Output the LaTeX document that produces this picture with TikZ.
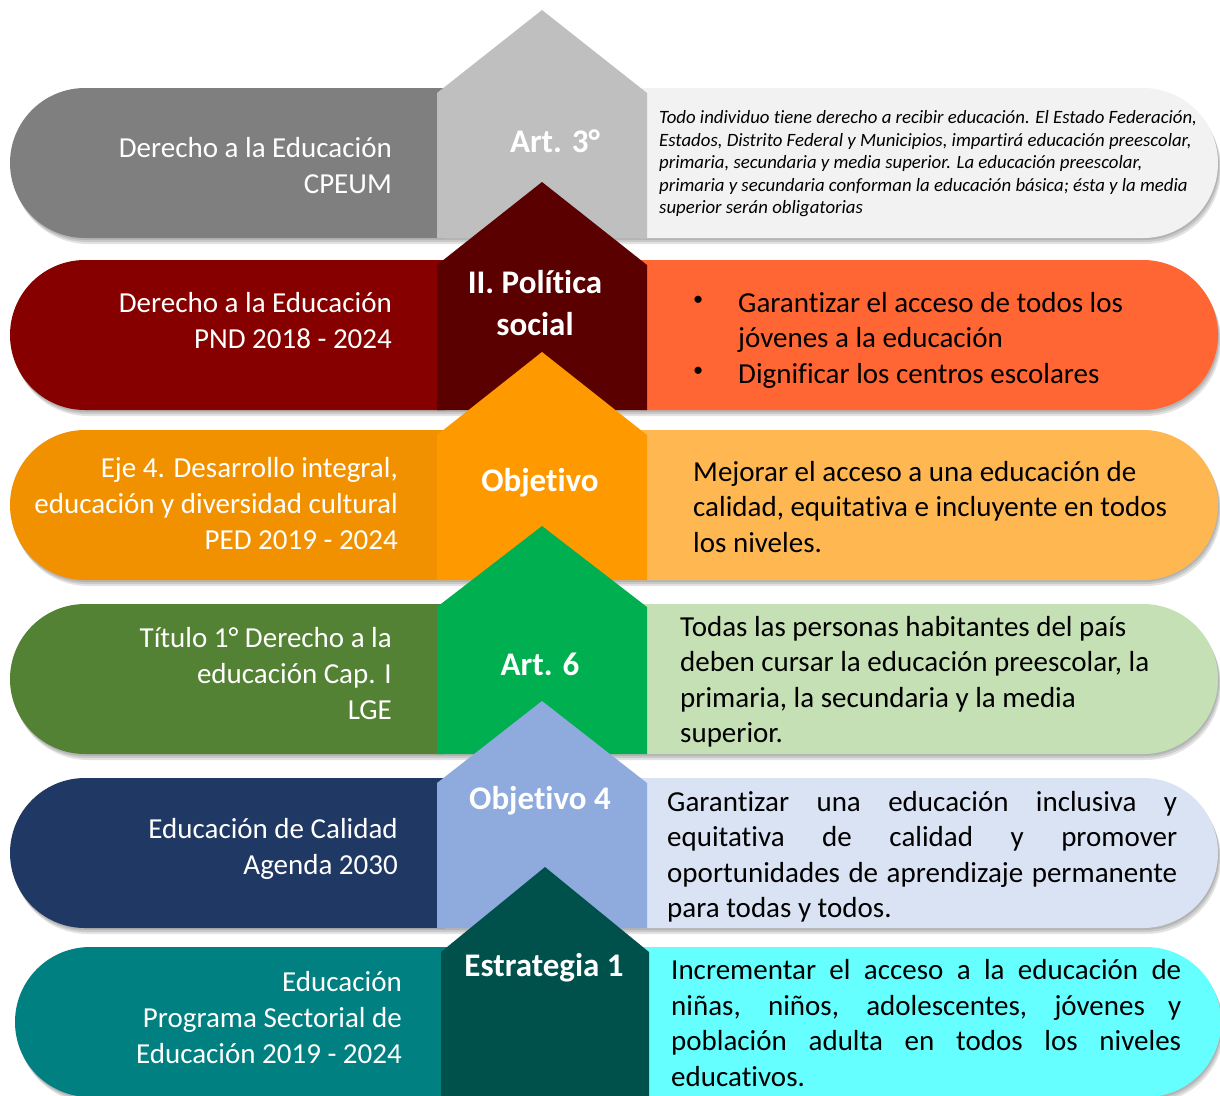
\documentclass[tikz,border=0pt]{standalone}
\usepackage{fontspec}
\setmainfont{Carlito}[Ligatures=NoCommon]
\usetikzlibrary{shapes.misc}
\definecolor{c1l}{HTML}{7F7F7F}\definecolor{c1m}{HTML}{BFBFBF}\definecolor{c1r}{HTML}{F2F2F2}
\definecolor{c2l}{HTML}{860000}\definecolor{c2m}{HTML}{5A0000}\definecolor{c2r}{HTML}{FF6633}
\definecolor{c3l}{HTML}{F29100}\definecolor{c3m}{HTML}{FF9900}\definecolor{c3r}{HTML}{FFB751}
\definecolor{c4l}{HTML}{548235}\definecolor{c4m}{HTML}{00B050}\definecolor{c4r}{HTML}{C5E0B4}
\definecolor{c5l}{HTML}{203864}\definecolor{c5m}{HTML}{8FAADC}\definecolor{c5r}{HTML}{DAE3F3}
\definecolor{c6l}{HTML}{008080}\definecolor{c6m}{HTML}{00504C}\definecolor{c6r}{HTML}{66FFFF}
\newcommand{\mybul}{\makebox[45pt][l]{\raisebox{0.5ex}{\scalebox{0.7}{\textbullet}}}}
\begin{document}
\begin{tikzpicture}[x=1pt,y=-1pt,
  lpill/.style={rounded rectangle, rounded rectangle right arc=none, minimum height=150pt, inner sep=0pt, draw=none},
  rpill/.style={rounded rectangle, rounded rectangle left arc=none, minimum height=150pt, inner sep=0pt, draw=none},
  shad/.style={rounded rectangle, minimum height=150pt, inner sep=0pt, draw=none, fill=black, fill opacity=0.11},
  ltext/.style={text=white, align=right, anchor=east, inner sep=0pt, font=\fontsize{29}{36}\selectfont},
  mtext/.style={text=white, align=center, inner sep=0pt, font=\bfseries\fontsize{33}{42}\selectfont},
  rtext/.style={text=black, align=left, anchor=west, inner sep=0pt, font=\fontsize{29}{35.5}\selectfont},
  itext/.style={text=black, align=left, anchor=west, inner sep=0pt, font=\itshape\fontsize{18.8}{22.5}\selectfont},
]
\useasboundingbox (0,0) rectangle (1220,1095);
% ---------- Row 1
\foreach \k in {1,2,3} \node[shad, minimum width=1208pt] (s1\k) at (614+\k,163+2*\k) {};
\node[lpill, fill=c1l, minimum width=435pt] (p1l) at (227.5,163) {};
\node[rpill, fill=c1r, minimum width=578pt] (p1r) at (929,163) {};
\fill[c1m] (437,238) -- (437,93) -- (542,10) -- (647,93) -- (647,238) -- cycle;
% ---------- Row 2
\foreach \k in {1,2,3} \node[shad, minimum width=1208pt] (s2\k) at (614+\k,335+2*\k) {};
\node[lpill, fill=c2l, minimum width=435pt] (p2l) at (227.5,335) {};
\node[rpill, fill=c2r, minimum width=578pt] (p2r) at (929,335) {};
\fill[c2m] (437,410) -- (437,265) -- (542,182) -- (647,265) -- (647,410) -- cycle;
% ---------- Row 3
\foreach \k in {1,2,3} \node[shad, minimum width=1208pt] (s3\k) at (614+\k,505+2*\k) {};
\node[lpill, fill=c3l, minimum width=435pt] (p3l) at (227.5,505) {};
\node[rpill, fill=c3r, minimum width=578pt] (p3r) at (929,505) {};
\fill[c3m] (437,580) -- (437,435) -- (542,352) -- (647,435) -- (647,580) -- cycle;
% ---------- Row 4
\foreach \k in {1,2,3} \node[shad, minimum width=1208pt] (s4\k) at (614+\k,679+2*\k) {};
\node[lpill, fill=c4l, minimum width=435pt] (p4l) at (227.5,679) {};
\node[rpill, fill=c4r, minimum width=578pt] (p4r) at (929,679) {};
\fill[c4m] (437,754) -- (437,607) -- (542,526) -- (647,607) -- (647,754) -- cycle;
% ---------- Row 5
\foreach \k in {1,2,3} \node[shad, minimum width=1208pt] (s5\k) at (614+\k,853+2*\k) {};
\node[lpill, fill=c5l, minimum width=435pt] (p5l) at (227.5,853) {};
\node[rpill, fill=c5r, minimum width=578pt] (p5r) at (929,853) {};
\fill[c5m] (437,928) -- (437,783) -- (542,701) -- (647,783) -- (647,928) -- cycle;
% ---------- Row 6
\foreach \k in {1,2,3} \node[shad, minimum width=1206pt] (s6\k) at (618+\k,1022+2*\k) {};
\node[lpill, fill=c6l, minimum width=433pt] (p6l) at (231.5,1022) {};
\node[rpill, fill=c6r, minimum width=578pt] (p6r) at (932,1022) {};
\fill[c6m] (441,1097) -- (441,952) -- (545,867) -- (649,952) -- (649,1097) -- cycle;
% ---------- Left texts
\node[ltext] (l1) at (392,166) {Derecho a la Educación\\CPEUM};
\node[ltext] (l2) at (392,321) {Derecho a la Educación\\PND 2018 - 2024};
\node[ltext] (l3) at (398,504) {Eje 4. Desarrollo integral,\\educación y diversidad cultural\\PED 2019 - 2024};
\node[ltext] (l4) at (392,674) {Título 1° Derecho a la\\educación Cap. I\\LGE};
\node[ltext] (l5) at (398,849) {Educación de Calidad\\Agenda 2030};
\node[ltext] (l6) at (402,1018) {Educación\\Programa Sectorial de\\Educación 2019 - 2024};
% ---------- Middle labels
\node[mtext] (m1) at (555,141) {Art. 3°};
\node[mtext] (m2) at (535,303) {II. Política\\social};
\node[mtext] (m3) at (540,483) {Objetivo};
\node[mtext] (m4) at (540,664) {Art. 6};
\node[mtext] (m5) at (540,801) {Objetivo 4};
\node[mtext] (m6) at (544,968) {Estrategia 1};
% ---------- Right texts
\node[itext] (r1) at (659,164) {Todo individuo tiene derecho a recibir educación. El Estado Federación,\\Estados, Distrito Federal y Municipios, impartirá educación preescolar,\\primaria, secundaria y media superior. La educación preescolar,\\primaria y secundaria conforman la educación básica; ésta y la media\\superior serán obligatorias};
\node[rtext] (r2) at (693,340) {\mybul Garantizar el acceso de todos los\\\hspace*{45pt}jóvenes a la educación\\\mybul Dignificar los centros escolares};
\node[rtext] (r3) at (693,507) {Mejorar el acceso a una educación de\\calidad, equitativa e incluyente en todos\\los niveles.};
\node[rtext] (r4) at (680,682) {Todas las personas habitantes del país\\deben cursar la educación preescolar, la\\primaria, la secundaria y la media\\superior.};
\node[rtext] (r5) at (667,857) {\makebox[510pt][s]{Garantizar una educación inclusiva y}\\\makebox[510pt][s]{equitativa de calidad y promover}\\\makebox[510pt][s]{oportunidades de aprendizaje permanente}\\para todas y todos.};
\node[rtext] (r6) at (671,1023) {\makebox[510pt][s]{Incrementar el acceso a la educación de}\\\makebox[510pt][s]{niñas, niños, adolescentes, jóvenes y}\\\makebox[510pt][s]{población adulta en todos los niveles}\\educativos.};
\end{tikzpicture}
\end{document}
